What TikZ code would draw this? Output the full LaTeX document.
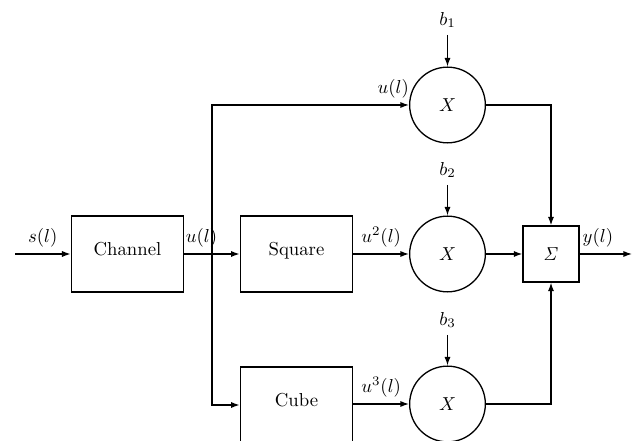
\documentclass[tikz,border=0pt]{standalone}
\usetikzlibrary{positioning,arrows.meta}
\begin{document}
\begin{tikzpicture}[>={Latex[length=4.6pt,width=3.3pt]}, x=0.01875cm, y=-0.01875cm, line width=0.7pt,
    block/.style={draw, minimum width=60pt, minimum height=40.4pt, text depth=5pt},
    mult/.style={draw, circle, minimum size=40.4pt, inner sep=0pt},
    sumbox/.style={draw, minimum size=29.8pt, inner sep=0pt}]
    \clip (0,0) rectangle (635,441);
    % blocks
    \node[block] (chan) at (127.5,254) {Channel};
    \node[block] (sq) at (296.5,254) {Square};
    \node[block] (cube) at (296.5,405) {Cube};
    \node[mult] (m1) at (447.5,105) {$X$};
    \node[mult] (m2) at (447.5,254) {$X$};
    \node[mult] (m3) at (447.5,404) {$X$};
    \node[sumbox] (sum) at (551,254) {$\mathit{\Sigma}$};
    \node (b1) at (447.5,20) {$b_1$};
    \node (b2) at (447.5,170) {$b_2$};
    \node (b3) at (447.5,320) {$b_3$};
    \coordinate (in) at (15,254);
    \coordinate (out) at (632,254);
    \coordinate (br) at (212,254);
    % connections
    \draw[->](in)--node[above]{$s(l)$}(chan);
    \draw(chan)--node[above, pos=.62]{$u(l)$}(br);
    \draw[->](br)--(sq);
    \draw[->](br)|-node[pos=.96, above]{$u(l)$}(m1);
    \draw[->](br)|-(cube);
    \draw[->](sq)--node[above]{$u^2(l)$}(m2);
    \draw[->](cube.east|-m3)--node[above]{$u^3(l)$}(m3);
    \draw[->](b1)--(m1);
    \draw[->](b2)--(m2);
    \draw[->](b3)--(m3);
    \draw[->](m1)-|(sum);
    \draw[->](m2)--(sum);
    \draw[->](m3)-|(sum);
    \draw[->](sum)--node[above, pos=.35]{$y(l)$}(out);
\end{tikzpicture}
\end{document}
